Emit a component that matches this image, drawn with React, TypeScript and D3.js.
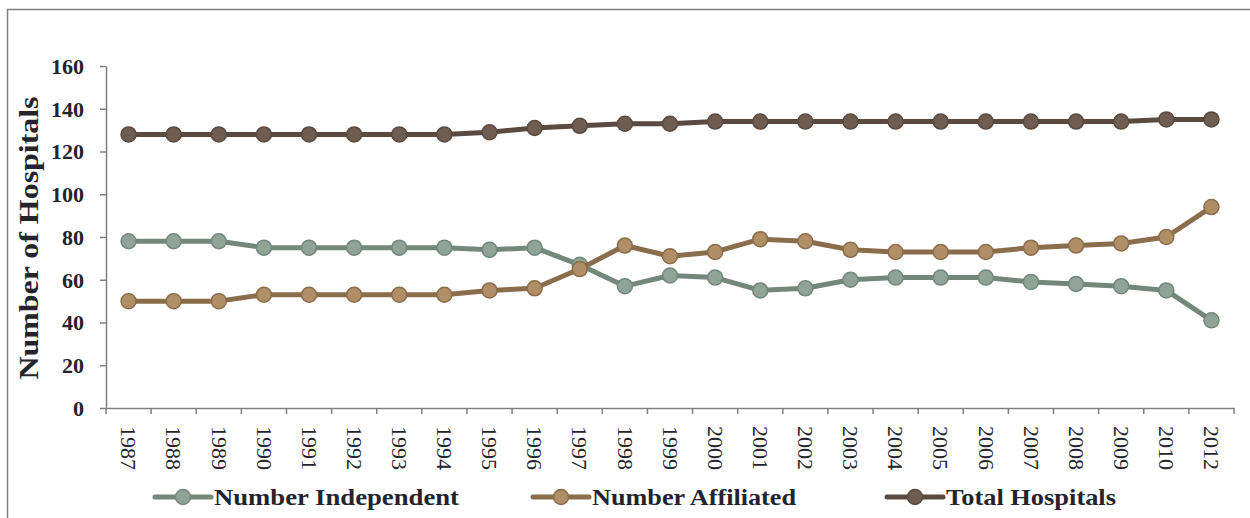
import React, { useEffect, useRef } from 'react';
import * as d3 from 'd3';

const years = ['1987', '1988', '1989', '1990', '1991', '1992', '1993', '1994', '1995', '1996', '1997', '1998', '1999', '2000', '2001', '2002', '2003', '2004', '2005', '2006', '2007', '2008', '2009', '2010', '2012'];
const independent = [78, 78, 78, 75, 75, 75, 75, 75, 74, 75, 67, 57, 62, 61, 55, 56, 60, 61, 61, 61, 59, 58, 57, 55, 41];
const affiliated = [50, 50, 50, 53, 53, 53, 53, 53, 55, 56, 65, 76, 71, 73, 79, 78, 74, 73, 73, 73, 75, 76, 77, 80, 94];
const total = [128, 128, 128, 128, 128, 128, 128, 128, 129, 131, 132, 133, 133, 134, 134, 134, 134, 134, 134, 134, 134, 134, 134, 135, 135];
const yTicks = [0, 20, 40, 60, 80, 100, 120, 140, 160];

const series = [
  { name: 'Number Independent', values: independent, line: '#73877b', fill: '#8fa397', legendX: 155, textLen: 245 },
  { name: 'Number Affiliated', values: affiliated, line: '#8a6d4b', fill: '#b08f66', legendX: 533, textLen: 204 },
  { name: 'Total Hospitals', values: total, line: '#5a4a40', fill: '#6f5d51', legendX: 887, textLen: 170 },
];

const FONT = '"Liberation Serif", "DejaVu Serif", serif';
const INK = '#24242e';

export default function App() {
  const ref = useRef<SVGSVGElement>(null);

  useEffect(() => {
    const width = 1250;
    const height = 518;
    const margin = { top: 66, right: 16, bottom: 110, left: 106 };
    const svg = d3.select(ref.current);
    svg.selectAll('*').remove();

    // outer frame
    svg.append('path')
      .attr('d', `M7.5,${height} V9.5 H${width}`)
      .attr('fill', 'none')
      .attr('stroke', '#7f7f7f')
      .attr('stroke-width', 1.5);

    const x = d3.scaleBand()
      .domain(years)
      .range([margin.left, width - margin.right]);

    const y = d3.scaleLinear()
      .domain([0, 160])
      .range([height - margin.bottom, margin.top]);

    const xAxis = (g: any) =>
      g.attr('transform', `translate(0,${height - margin.bottom})`)
        .call(d3.axisBottom(x).tickSize(0).tickSizeOuter(0))
        .call((g: any) => g.select('.domain').attr('stroke', '#7f7f7f').attr('stroke-width', 1.5))
        .call((g: any) => g.selectAll('.tick line').remove())
        .call((g: any) => g.selectAll('.tick text')
          .attr('transform', 'rotate(90)')
          .attr('x', 18)
          .attr('y', 0)
          .attr('dy', '0.33em')
          .attr('text-anchor', 'start')
          .attr('font-family', FONT)
          .attr('font-size', 22)
          .attr('fill', INK));

    const boundaries = years.map((d) => x(d) as number).concat([(x(years[years.length - 1]) as number) + x.bandwidth()]);
    svg.append('g')
      .selectAll('line')
      .data(boundaries)
      .join('line')
      .attr('x1', (d) => d)
      .attr('x2', (d) => d)
      .attr('y1', height - margin.bottom)
      .attr('y2', height - margin.bottom + 6)
      .attr('stroke', '#7f7f7f')
      .attr('stroke-width', 1.5);

    const yAxis = (g: any) =>
      g.attr('transform', `translate(${margin.left},0)`)
        .call(d3.axisLeft(y).tickValues(yTicks).tickSize(6).tickSizeOuter(0))
        .call((g: any) => g.select('.domain').attr('stroke', '#7f7f7f').attr('stroke-width', 1.5))
        .call((g: any) => g.selectAll('.tick line').attr('stroke', '#7f7f7f').attr('stroke-width', 1.5))
        .call((g: any) => g.selectAll('.tick text')
          .attr('x', -22)
          .attr('dy', '0.33em')
          .attr('font-family', FONT)
          .attr('font-size', 22)
          .attr('font-weight', 'bold')
          .attr('fill', INK));

    svg.append('g').call(xAxis);
    svg.append('g').call(yAxis);

    svg.append('text')
      .attr('transform', `translate(38,${(y(0) + y(160)) / 2 + 1}) rotate(-90)`)
      .attr('text-anchor', 'middle')
      .attr('font-family', FONT)
      .attr('font-size', 28)
      .attr('font-weight', 'bold')
      .attr('fill', INK)
      .attr('textLength', 283)
      .attr('lengthAdjust', 'spacingAndGlyphs')
      .text('Number of Hospitals');

    const cx = (i: number) => (x(years[i]) as number) + x.bandwidth() / 2;
    const line = d3.line<number>()
      .x((d, i) => cx(i))
      .y((d) => y(d));

    series.forEach((s) => {
      const g = svg.append('g');
      g.append('path')
        .datum(s.values)
        .attr('fill', 'none')
        .attr('stroke', s.line)
        .attr('stroke-width', 5)
        .attr('stroke-linejoin', 'round')
        .attr('d', line);
      g.selectAll('circle')
        .data(s.values)
        .join('circle')
        .attr('cx', (d, i) => cx(i))
        .attr('cy', (d) => y(d))
        .attr('r', 7.5)
        .attr('fill', s.fill)
        .attr('stroke', s.line)
        .attr('stroke-width', 1.5);
    });

    // legend
    const legend = svg.append('g')
      .selectAll('g')
      .data(series)
      .join('g')
      .attr('transform', (d) => `translate(${d.legendX},497)`);
    legend.append('line')
      .attr('x1', 0)
      .attr('x2', 56)
      .attr('stroke', (d) => d.line)
      .attr('stroke-width', 5)
      .attr('stroke-linecap', 'round');
    legend.append('circle')
      .attr('cx', 28)
      .attr('r', 7.5)
      .attr('fill', (d) => d.fill)
      .attr('stroke', (d) => d.line)
      .attr('stroke-width', 1.5);
    legend.append('text')
      .attr('x', 59)
      .attr('dy', '0.33em')
      .attr('font-family', FONT)
      .attr('font-size', 24)
      .attr('font-weight', 'bold')
      .attr('fill', INK)
      .attr('textLength', (d) => d.textLen)
      .attr('lengthAdjust', 'spacingAndGlyphs')
      .text((d) => d.name);
  }, []);

  return (
    <svg
      ref={ref}
      width={1250}
      height={518}
      style={{ position: 'absolute', left: 0, top: 0, background: '#fff' }}
    />
  );
}
